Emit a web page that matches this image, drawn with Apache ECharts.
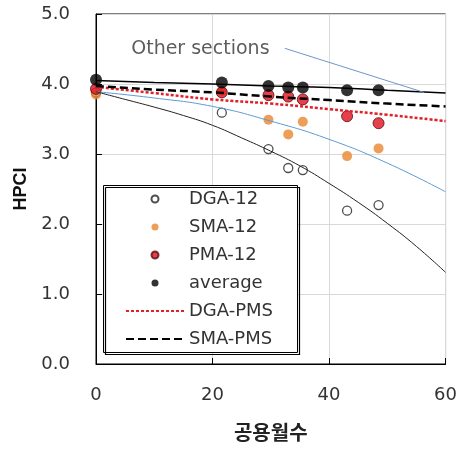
<!DOCTYPE html>
<html>
<head>
<meta charset="utf-8">
<script src="https://cdn.jsdelivr.net/npm/echarts@6/dist/echarts.min.js"></script>
<style>
  html, body { margin: 0; padding: 0; background: #fff; }
  #main { width: 460px; height: 449px; }
</style>
</head>
<body>
<div id="main"></div>
<script>
// measured points (months in service vs HPCI)
var months = [0, 21.6, 29.6, 33, 35.5, 43.1, 48.5];
var dga12 = [3.88, 3.59, 3.07, 2.80, 2.77, 2.19, 2.27];
var sma12 = [3.85, 3.90, 3.49, 3.28, 3.46, 2.97, 3.08];
var pma12 = [3.93, 3.88, 3.84, 3.82, 3.78, 3.54, 3.44];
var average = [4.06, 4.02, 3.97, 3.95, 3.95, 3.91, 3.91];

// trend curves
var curveMonths = [0, 10, 20, 30, 40, 50, 60];
var dgaPms = [3.96, 3.87, 3.78, 3.72, 3.64, 3.56, 3.47];
var smaPms = [3.97, 3.92, 3.88, 3.82, 3.77, 3.72, 3.68];
var avgFit = [4.05, 4.02, 4.00, 3.97, 3.95, 3.91, 3.87];
var smaFit = [3.89, 3.80, 3.68, 3.47, 3.21, 2.87, 2.46];
var dgaFitMonths = [0, 5, 10, 15, 20, 25, 30, 35, 40, 45, 50, 55, 60];
var dgaFit = [3.89, 3.78, 3.67, 3.55, 3.41, 3.23, 3.04, 2.83, 2.58, 2.31, 2.01, 1.68, 1.31];

// "Other sections" leader
var leaderLine = [[32.4, 4.51], [56.3, 3.88]];
var leaderText = [31, 4.5];

var xTicks = [0, 20, 40, 60];
var yTicks = [0, 1, 2, 3, 4, 5];

var font = 'DejaVu Sans';

function pairs(xs, ys) {
  return xs.map(function (x, i) { return [x, ys[i]]; });
}

var chart = echarts.init(document.getElementById('main'));

var option = {
  animation: false,
  grid: {
    left: 96, right: 10, top: 14, bottom: 85,
    show: true, borderColor: '#000', borderWidth: 1
  },
  // legend box: white fill under the legend, black frame over it
  graphic: {
    elements: [
      {
        type: 'rect', left: 103, top: 185, z: 3, silent: true,
        shape: { width: 195, height: 168 },
        style: { fill: '#fff' }
      },
      {
        type: 'rect', left: 103, top: 185, z: 100, silent: true,
        shape: { width: 194, height: 167 },
        style: { fill: 'transparent', stroke: '#000', lineWidth: 1 }
      },
      {
        type: 'polyline', left: 103, top: 185, z: 101, silent: true,
        shape: { points: [[0, 0], [194, 0], [194, 167], [0, 167], [0, 0]] },
        style: { fill: null, stroke: '#000', lineWidth: 1.2 }
      }
    ]
  },
  legend: {
    orient: 'vertical',
    left: 103, top: 185,
    padding: [4, 23, 3, 22],
    itemWidth: 58, itemHeight: 7, itemGap: 8,
    backgroundColor: 'transparent', borderWidth: 0,
    textStyle: { fontFamily: font, fontSize: 18, lineHeight: 20, color: '#333' },
    data: [
      'DGA-12', 'SMA-12', 'PMA-12', 'average',
      { name: 'DGA-PMS', itemStyle: { opacity: 0 } },
      { name: 'SMA-PMS', itemStyle: { opacity: 0 } }
    ]
  },
  xAxis: {
    type: 'value', min: 0, max: 60, interval: 20,
    name: '공용월수', nameLocation: 'middle', nameGap: 58,
    nameTextStyle: { fontFamily: 'Noto Sans CJK KR', fontWeight: 'bold', fontSize: 20, color: '#222' },
    axisLine: { lineStyle: { color: '#000', width: 1 } },
    axisTick: { inside: true, length: 6, lineStyle: { color: '#000' } },
    axisLabel: {
      margin: 22, fontFamily: font, fontSize: 18, color: '#333',
      formatter: function (v) { return xTicks.indexOf(v) >= 0 ? String(v) : ''; }
    },
    splitLine: { lineStyle: { color: '#d9d9d9' } }
  },
  yAxis: {
    type: 'value', min: 0, max: 5, interval: 1,
    name: 'HPCI', nameLocation: 'middle', nameGap: 66,
    nameTextStyle: { fontFamily: 'Liberation Sans', fontWeight: 'bold', fontSize: 18, color: '#111' },
    axisLine: { show: true, lineStyle: { color: '#000', width: 1 } },
    axisTick: { show: true, inside: true, length: 6, lineStyle: { color: '#000' } },
    axisLabel: {
      margin: 26, fontFamily: font, fontSize: 18, color: '#333',
      formatter: function (v) { return yTicks.indexOf(v) >= 0 ? v.toFixed(1) : ''; }
    },
    splitLine: { lineStyle: { color: '#d9d9d9' } }
  },
  series: [
    {
      name: 'SMA-12 fit', type: 'line', smooth: true, symbol: 'none', silent: true,
      data: pairs(curveMonths, smaFit),
      lineStyle: { color: '#5b9bd5', width: 1 }
    },
    {
      name: 'DGA-12 fit', type: 'line', smooth: true, symbol: 'none', silent: true,
      data: pairs(dgaFitMonths, dgaFit),
      lineStyle: { color: '#222', width: 1 }
    },
    {
      name: 'average fit', type: 'line', smooth: true, symbol: 'none', silent: true,
      data: pairs(curveMonths, avgFit),
      lineStyle: { color: '#000', width: 1.5 }
    },
    {
      name: 'DGA-PMS', type: 'line', smooth: true, symbol: 'none',
      data: pairs(curveMonths, dgaPms),
      itemStyle: { color: '#e0202a' },
      lineStyle: { color: '#e0202a', width: 2.5, type: [3, 2] }
    },
    {
      name: 'SMA-PMS', type: 'line', smooth: true, symbol: 'none',
      data: pairs(curveMonths, smaPms),
      itemStyle: { color: '#000' },
      lineStyle: { color: '#000', width: 2.5, type: [8, 4] }
    },
    {
      name: 'other sections', type: 'line', symbol: 'none', silent: true,
      data: leaderLine,
      lineStyle: { color: '#6f95c8', width: 1 }
    },
    {
      name: 'other sections label', type: 'scatter', symbolSize: 0.1, silent: true,
      itemStyle: { color: 'transparent' },
      data: [leaderText],
      label: {
        show: true, position: 'left', distance: 7,
        formatter: 'Other sections',
        fontFamily: font, fontSize: 19, color: '#333'
      }
    },
    {
      name: 'DGA-12', type: 'scatter', symbol: 'circle', symbolSize: 9,
      data: pairs(months, dga12),
      itemStyle: { color: '#fff', borderColor: '#222', borderWidth: 1.3 }
    },
    {
      name: 'SMA-12', type: 'scatter', symbol: 'circle', symbolSize: 10,
      data: pairs(months, sma12),
      itemStyle: { color: '#e8862e' }
    },
    {
      name: 'PMA-12', type: 'scatter', symbol: 'circle', symbolSize: 11,
      data: pairs(months, pma12),
      itemStyle: { color: '#e01020', borderColor: '#5a0a0a', borderWidth: 1 }
    },
    {
      name: 'average', type: 'scatter', symbol: 'circle', symbolSize: 12,
      data: pairs(months, average),
      itemStyle: { color: '#000' }
    }
  ]
};

chart.setOption(option);
</script>
</body>
</html>
